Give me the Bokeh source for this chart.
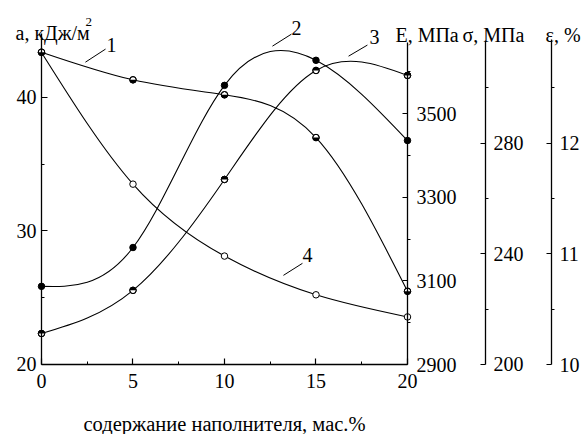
import numpy as np
from bokeh.plotting import figure
from bokeh.models import Range1d, LinearAxis, FixedTicker, Label
from bokeh.embed import file_html
from bokeh.resources import INLINE

# ---- data ----
filler = [0, 5, 10, 15, 20]                         # содержание наполнителя, мас.%
impact_a = [43.37, 41.30, 40.18, 36.98, 25.48]      # curve 1, a, кДж/м2
modulus_E = [3087, 3180, 3568, 3628, 3436]          # curve 2, E, МПа
strength_s = [211.2, 226.8, 266.9, 306.3, 304.5]    # curve 3, σ, МПа
elong_e = [12.82, 11.63, 10.98, 10.63, 10.43]       # curve 4, ε, %

x_ticks = [0, 5, 10, 15, 20]
a_ticks = [20, 30, 40]
E_ticks = [2900, 3100, 3300, 3500]
s_ticks = [200, 240, 280]
e_ticks = [10, 11, 12]

FONT = "Liberation Serif"
FS = "20px"
W, H = 582, 434


def bezier_controls(xs, ys):
    x = np.asarray(xs, float)
    y = np.asarray(ys, float)
    n = len(x)
    h = np.diff(x)
    A = np.zeros((n, n))
    r = np.zeros(n)
    A[0, 0] = A[-1, -1] = 1
    for i in range(1, n - 1):
        A[i, i - 1] = h[i - 1]
        A[i, i] = 2 * (h[i - 1] + h[i])
        A[i, i + 1] = h[i]
        r[i] = 6 * ((y[i + 1] - y[i]) / h[i] - (y[i] - y[i - 1]) / h[i - 1])
    M = np.linalg.solve(A, r)
    m = np.empty(n)
    m[:-1] = (y[1:] - y[:-1]) / h - h * (2 * M[:-1] + M[1:]) / 6
    m[-1] = (y[-1] - y[-2]) / h[-1] + h[-1] * (M[-2] + 2 * M[-1]) / 6
    return dict(x0=x[:-1], y0=y[:-1], x1=x[1:], y1=y[1:],
                cx0=x[:-1] + h / 3, cy0=y[:-1] + m[:-1] * h / 3,
                cx1=x[1:] - h / 3, cy1=y[1:] - m[1:] * h / 3)


def style_axis(ax):
    ax.major_label_text_font = FONT
    ax.major_label_text_font_size = FS
    ax.major_label_text_color = "black"
    ax.axis_line_color = "black"
    ax.axis_line_width = 1.3
    ax.major_tick_line_color = "black"
    ax.minor_tick_line_color = "black"
    ax.major_tick_line_width = 1.2
    ax.minor_tick_line_width = 1.0


# ranges: the frame covers the whole canvas; axes are placed with fixed_location
x_range = Range1d(-2.2404, 29.563)
a_range = Range1d(14.762, 47.235)
E_range = Range1d(2732.5, 3771.1)
s_range = Range1d(174.69, 331.59)
e_range = Range1d(9.3674, 13.2897)

p = figure(width=W, height=H, x_range=x_range, y_range=a_range,
           min_border_left=0, min_border_right=0, min_border_top=0, min_border_bottom=0,
           toolbar_location=None, output_backend="svg", outline_line_color=None)
p.extra_y_ranges = {"E": E_range, "s": s_range, "e": e_range}
p.grid.visible = False

xa = p.xaxis[0]
style_axis(xa)
xa.fixed_location = 20
xa.bounds = (0, 20)
xa.ticker = FixedTicker(ticks=x_ticks, minor_ticks=[2.5, 7.5, 12.5, 17.5])
xa.major_tick_in, xa.major_tick_out = 6, 0
xa.minor_tick_in, xa.minor_tick_out = 3, 0
xa.major_label_standoff = 10
xa.axis_label = "содержание наполнителя, мас.%"
xa.axis_label_text_font = FONT
xa.axis_label_text_font_size = "20.5px"
xa.axis_label_text_font_style = "normal"
xa.axis_label_text_color = "black"
xa.axis_label_standoff = 21

ya = p.yaxis[0]
style_axis(ya)
ya.fixed_location = 0
ya.ticker = FixedTicker(ticks=a_ticks, minor_ticks=[25, 35])
ya.bounds = (20, 44.8)
ya.major_tick_in, ya.major_tick_out = 6, 0
ya.minor_tick_in, ya.minor_tick_out = 3, 0
ya.major_label_standoff = 5


def right_axis(name, loc, ticks, minor, bounds, standoff):
    ax = LinearAxis(y_range_name=name, fixed_location=loc)
    style_axis(ax)
    ax.ticker = FixedTicker(ticks=ticks, minor_ticks=minor)
    ax.bounds = bounds
    ax.major_tick_in, ax.major_tick_out = 5, 0
    ax.minor_tick_in, ax.minor_tick_out = 0, 3
    ax.major_label_standoff = standoff
    p.add_layout(ax, "right")


right_axis("E", 20, E_ticks, [3000, 3200, 3400, 3600], (2900, 3670), 6)
right_axis("s", 24.262, s_ticks, [220, 260, 300], (200, 317), 5)
right_axis("e", 27.869, e_ticks, [10.5, 11.5, 12.5], (10, 12.94), 5)

# curves
for vals, rn in [(impact_a, "default"), (modulus_E, "E"), (strength_s, "s"), (elong_e, "e")]:
    p.bezier(**bezier_controls(filler, vals), line_color="black", line_width=1.1, y_range_name=rn)

MS = 6.5
R = MS / 2
# curve 4: open
p.scatter(filler, elong_e, marker="circle", size=MS, fill_color="white", line_color="black",
          line_width=1, y_range_name="e")
# curve 1: bottom half filled
p.scatter(filler, impact_a, marker="circle", size=MS, fill_color="white", line_color="black", line_width=1)
p.wedge(filler, impact_a, radius=R, radius_units="screen", start_angle=np.pi, end_angle=2 * np.pi,
        fill_color="black", line_color=None)
p.scatter(filler, impact_a, marker="circle", size=MS, fill_color=None, line_color="black", line_width=1)
# curve 2: filled
p.scatter(filler, modulus_E, marker="circle", size=MS, fill_color="black", line_color="black",
          line_width=1, y_range_name="E")
# curve 3: top half filled
p.scatter(filler, strength_s, marker="circle", size=MS, fill_color="white", line_color="black",
          line_width=1, y_range_name="s")
p.wedge(filler, strength_s, radius=R, radius_units="screen", start_angle=0, end_angle=np.pi,
        fill_color="black", line_color=None, y_range_name="s")
p.scatter(filler, strength_s, marker="circle", size=MS, fill_color=None, line_color="black",
          line_width=1, y_range_name="s")

# curve numbers with leader lines
p.segment(x0=[2.40, 12.62, 16.78, 13.22], y0=[42.62, 43.82, 43.07, 26.67],
          x1=[3.50, 13.66, 17.81, 14.26], y1=[43.60, 44.72, 43.90, 27.57],
          line_color="black", line_width=1)


def label(x, y, text, size=FS, align="left", baseline="alphabetic"):
    p.add_layout(Label(x=x, y=y, text=text, text_font=FONT, text_font_size=size,
                       text_align=align, text_baseline=baseline, text_color="black"))


for txt, lx, ly in [("1", 3.83, 43.87), ("2", 13.93, 45.14), ("3", 18.20, 44.47), ("4", 14.54, 28.16)]:
    label(lx, ly, txt, align="center", baseline="middle")

label(-1.42, 44.77, "a, кДж/м")
label(2.40, 45.59, "2", size="13px")
label(19.34, 44.62, "E, МПа")
label(23.0, 44.62, "σ, МПа")
label(27.54, 44.62, "ε, %")

open("out.html", "w").write(file_html(p, INLINE))
